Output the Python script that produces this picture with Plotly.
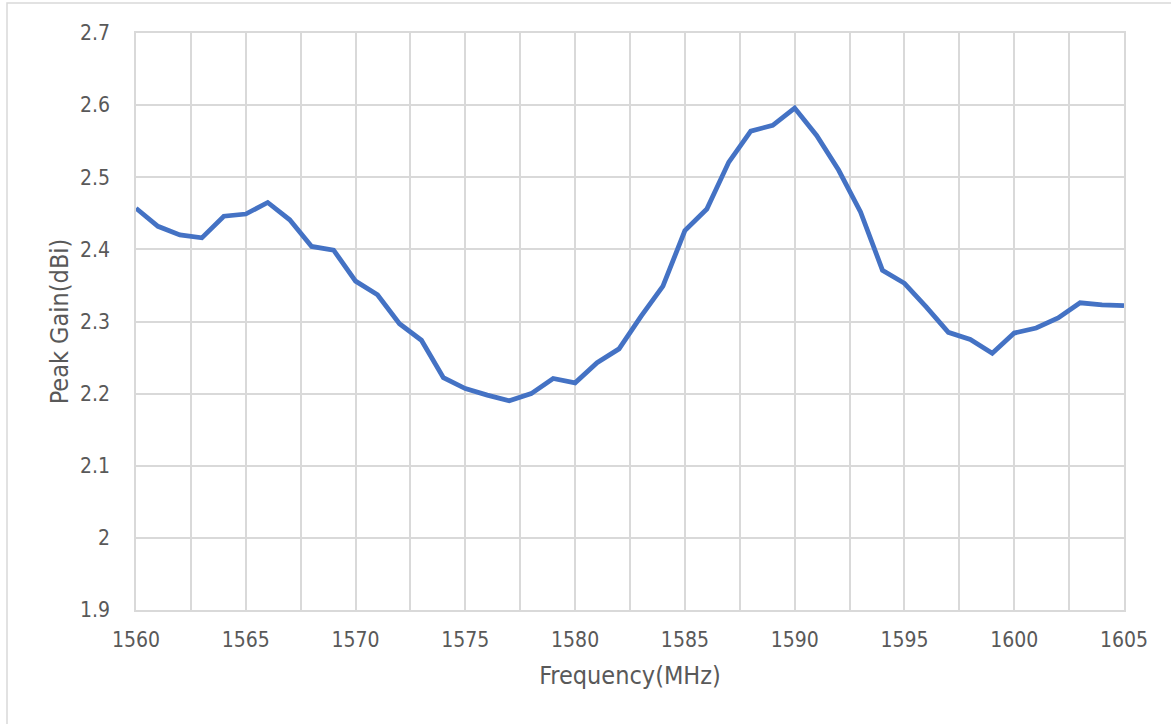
import plotly.graph_objects as go

freq_mhz = list(range(1560, 1606))
peak_gain_dbi = [
    2.457, 2.432, 2.420, 2.416, 2.446, 2.449, 2.465, 2.441, 2.404, 2.399,
    2.356, 2.337, 2.297, 2.274, 2.222, 2.207, 2.198, 2.190, 2.200, 2.221,
    2.215, 2.243, 2.262, 2.307, 2.349, 2.426, 2.456, 2.521, 2.564, 2.572,
    2.596, 2.558, 2.510, 2.452, 2.371, 2.353, 2.320, 2.285, 2.275, 2.256,
    2.284, 2.291, 2.305, 2.326, 2.323, 2.322,
]
x_title = "Frequency(MHz)"
y_title = "Peak Gain(dBi)"

FONT = "Liberation Sans Narrow, Arial Narrow, DejaVu Sans Condensed, sans-serif"
GRID = "#d9d9d9"
TXT = "#595959"

fig = go.Figure()
fig.add_trace(go.Scatter(
    x=freq_mhz, y=peak_gain_dbi, mode="lines",
    line=dict(color="#4472C4", width=4.8), showlegend=False,
))

W, H = 1171, 724
L, R, T, B = 136, 47, 33, 114
pw, ph = W - L - R, H - T - B

fig.update_layout(
    width=W, height=H,
    margin=dict(l=L, r=R, t=T, b=B),
    paper_bgcolor="white", plot_bgcolor="white",
    font=dict(family=FONT, color=TXT, size=21),
    xaxis=dict(
        range=[1560, 1605], tick0=1560, dtick=5,
        showgrid=True, gridcolor=GRID, gridwidth=1.7,
        minor=dict(dtick=2.5, tick0=1560, showgrid=True, gridcolor=GRID, gridwidth=1.7),
        showline=True, linecolor=GRID, linewidth=1.7, mirror=True,
        zeroline=False, ticks="", ticklabelstandoff=10,
        tickfont=dict(size=21, color=TXT, family=FONT),
        title=dict(text=x_title, font=dict(size=25, color=TXT, family=FONT), standoff=15),
    ),
    yaxis=dict(
        range=[1.9, 2.7], tick0=1.9, dtick=0.1,
        showgrid=True, gridcolor=GRID, gridwidth=1.7,
        showline=True, linecolor=GRID, linewidth=1.7, mirror=True,
        zeroline=False, ticks="", ticklabelstandoff=20,
        tickformat="~g",
        tickfont=dict(size=21, color=TXT, family=FONT),
        title=dict(text=y_title, font=dict(size=25, color=TXT, family=FONT), standoff=4),
    ),
    shapes=[dict(
        type="rect", xref="paper", yref="paper",
        x0=(7 - L) / pw, x1=(1180 - L) / pw,
        y0=-(H + 10 - (H - B)) / ph, y1=1 + (T - 3) / ph,
        line=dict(color="#d9d9d9", width=1.5), fillcolor="rgba(0,0,0,0)", layer="below",
    )],
)

fig.write_html(
    "out.html",
    config={"displayModeBar": False},
    post_script="document.body.style.margin='0';document.body.style.padding='0';",
)
